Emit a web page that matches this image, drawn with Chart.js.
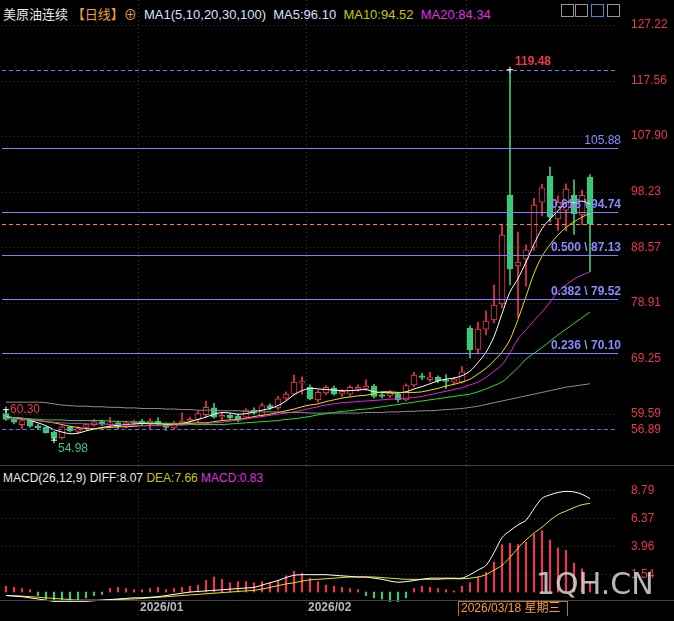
<!DOCTYPE html>
<html>
<head>
<meta charset="utf-8">
<script src="https://cdn.jsdelivr.net/npm/chart.js@4/dist/chart.umd.min.js"></script>
<style>
  body { margin: 0; background: #000; width: 674px; height: 621px; overflow: hidden; position: relative;
         font-family: "Liberation Sans", "Noto Sans CJK SC", sans-serif; }
  canvas { position: absolute; left: 0; }
  #legend { position: absolute; left: 3px; top: 4px; font-size: 13px; color: #e8e8e8; white-space: nowrap; }
  #macdTitle { position: absolute; left: 3px; top: 471px; font-size: 12px; color: #e8e8e8; white-space: nowrap; }
  .cn { font-family: "Noto Sans CJK SC", sans-serif; }
  .box { position: absolute; top: 4px; width: 13px; height: 13px; border: 1px solid #999; box-sizing: border-box; }
</style>
</head>
<body>
<div id="legend"><span class="cn">美原油连续</span> <span class="cn" style="color:#e8a040">【日线】</span><span style="color:#e8a040">⊕</span>
  &nbsp;<span style="color:#d8e0ff">MA1(5,10,20,30,100)</span>&nbsp;
  <span style="color:#d8e0ff">MA5:96.10</span>&nbsp;
  <span style="color:#c8c800">MA10:94.52</span>&nbsp;
  <span style="color:#e030e0">MA20:84.34</span></div>
<div class="box" style="left:561px"></div><div class="box" style="left:575px"></div>
<div class="box" style="left:591px;border-color:#3a8ee0"></div><div class="box" style="left:607px"></div>
<div id="macdTitle">MACD(26,12,9) DIFF:8.07 <span style="color:#c8c800">DEA:7.66</span> <span style="color:#e030e0">MACD:0.83</span></div>
<canvas id="price" width="674" height="466" style="top:0"></canvas>
<canvas id="macd" width="674" height="150" style="top:466px"></canvas>
<script>
// daily candles, oldest first
var opens  = [59.6,58.6,57.7,58.4,57.5,57.2,56.4,55.4,57.2,56.5, 57.2,57.7,58.2,57.8,58.0,57.3,58.0,58.3,57.8,58.3,
              57.8,57.1,58.0,58.3,58.6,59.4,60.6,59.0,59.3,59.2, 59.0,60.2,59.3,61.0,60.6,62.3,63.0,64.9,64.2,62.0,
              63.2,64.1,63.0,63.0,63.8,64.0,64.4,62.9,62.7,63.0, 62.0,64.6,66.2,65.5,65.9,65.5,65.1,65.1,74.5,70.8,
              74.3,75.9,78.7,97.6,85.3,86.5,88.6,96.4,100.9,93.5, 95.0,97.6,94.2,100.8];
var highs  = [60.3,58.9,58.6,58.6,57.8,57.3,56.5,57.5,57.4,57.3, 57.9,58.6,58.5,58.9,58.3,58.2,58.5,58.6,58.7,58.9,
              58.0,58.3,59.7,59.0,60.0,61.8,61.4,59.8,59.6,59.5, 60.5,60.6,61.4,61.3,62.6,63.4,66.3,66.0,64.6,63.6,
              64.5,64.4,63.8,64.5,64.6,65.5,64.7,63.2,63.6,63.3, 64.8,66.8,66.6,66.8,66.2,66.4,65.9,67.8,74.9,75.5,
              77.5,82.0,92.6,119.48,91.2,89.0,97.1,99.5,102.5,97.5, 99.6,100.3,98.5,101.2];
var lows   = [58.4,57.8,57.0,57.2,56.9,56.2,54.98,55.2,56.4,56.2, 56.9,57.4,57.5,57.5,57.0,57.1,57.7,57.6,56.8,57.6,
              56.7,56.8,57.7,57.9,58.2,59.0,58.8,58.5,58.6,58.2, 58.7,59.5,59.0,60.3,60.3,62.0,62.8,63.0,62.0,61.6,
              62.9,62.8,62.6,62.7,63.5,63.7,62.3,62.3,62.4,61.6, 61.8,64.3,65.5,65.2,65.0,64.0,64.8,64.9,69.3,70.0,
              73.3,75.4,78.0,82.0,76.4,81.8,88.0,94.0,93.0,91.5, 91.4,90.8,92.5,84.3];
var closes = [58.6,58.1,58.4,57.4,57.1,56.3,55.3,57.3,56.6,57.0, 57.7,58.2,57.8,58.0,57.3,58.0,58.3,57.9,58.3,57.8,
              57.2,58.0,58.3,58.6,59.6,60.7,59.0,59.3,58.9,58.4, 60.2,59.7,61.0,60.6,62.2,63.0,65.1,65.2,62.2,63.3,
              64.2,63.0,63.5,64.2,64.2,64.4,62.6,62.6,63.3,62.0, 64.5,66.3,65.9,66.0,65.3,65.2,65.6,66.9,70.7,74.3,
              75.7,78.5,90.7,84.8,86.0,88.1,95.9,98.9,93.8,96.4, 98.7,94.4,97.6,92.6];

var ma5   = [59.1,58.9,58.7,58.4,58.0,57.5,56.8,56.4,56.1,56.2, 56.6,56.9,57.2,57.4,57.6,57.7,57.8,57.9,57.9,57.9,
             57.8,57.8,57.9,58.2,58.6,59.0,59.5,59.8,59.7,59.5, 59.6,59.9,60.2,60.5,61.0,61.8,62.9,63.6,64.0,63.9,
             63.8,63.7,63.6,63.6,63.7,63.8,63.4,63.3,63.2,63.2, 63.4,63.9,64.3,64.8,65.3,65.6,65.8,66.2,67.0,68.5,
             70.3,73.0,77.0,80.8,83.1,86.0,89.1,91.8,93.5,94.9, 96.4,96.3,96.6,96.1];
var ma10  = [59.0,58.9,58.8,58.6,58.4,58.2,58.0,57.7,57.4,57.2, 57.0,57.0,57.1,57.2,57.3,57.3,57.4,57.5,57.6,57.6,
             57.7,57.7,57.8,57.9,58.0,58.0,58.2,58.4,58.5,58.6, 58.8,59.1,59.3,59.5,59.8,60.1,60.4,60.8,61.1,61.3,
             61.7,62.0,62.3,62.5,62.7,62.8,63.1,63.4,63.4,63.3, 63.3,63.3,63.4,63.7,64.0,64.4,64.7,65.1,65.6,66.5,
             67.5,68.8,70.3,72.5,76.0,80.0,84.0,87.0,89.0,90.7, 92.0,93.0,93.8,94.5];
var ma20  = [58.8,58.7,58.6,58.5,58.4,58.2,58.1,58.0,57.9,57.9, 57.8,57.8,57.8,57.7,57.7,57.6,57.6,57.5,57.5,57.5,
             57.5,57.6,57.6,57.7,57.8,57.9,58.0,58.1,58.3,58.5, 58.7,58.9,59.1,59.3,59.5,59.7,59.9,60.2,60.5,60.8,
             61.1,61.3,61.5,61.6,61.7,61.8,61.9,62.0,62.1,62.2, 62.3,62.4,62.6,62.9,63.2,63.5,63.8,64.1,64.6,65.1,
             65.9,67.0,68.1,70.2,72.6,74.2,75.8,77.3,79.0,80.8, 82.0,83.0,83.7,84.3];
var ma30  = [59.0,58.9,58.8,58.7,58.6,58.5,58.5,58.5,58.4,58.4, 58.4,58.4,58.4,58.3,58.2,58.2,58.1,58.1,58.0,58.0,
             57.9,57.9,57.8,57.8,57.7,57.7,57.7,57.7,57.8,57.9, 58.0,58.1,58.2,58.3,58.4,58.6,58.7,58.9,59.1,59.4,
             59.6,59.8,60.0,60.1,60.3,60.4,60.6,60.8,61.0,61.2, 61.4,61.6,61.8,62.0,62.2,62.4,62.6,62.8,63.0,63.4,
             63.9,64.5,65.1,66.3,67.6,69.1,70.1,71.1,72.2,73.3, 74.3,75.3,76.3,77.3];
var ma100 = [61.6,61.6,61.6,61.6,61.6,61.5,61.3,61.1,61.0,60.9, 60.9,60.8,60.8,60.7,60.7,60.6,60.6,60.5,60.5,60.5,
             60.4,60.4,60.3,60.3,60.2,60.2,60.2,60.1,60.1,60.1, 60.0,60.0,59.9,59.9,59.9,59.8,59.8,59.8,59.7,59.7,
             59.7,59.7,59.7,59.7,59.7,59.8,59.8,59.8,59.9,59.9, 60.0,60.0,60.1,60.1,60.2,60.3,60.4,60.5,60.7,60.9,
             61.2,61.5,61.8,62.1,62.4,62.7,63.0,63.3,63.6,63.9, 64.2,64.4,64.6,64.8];

var diff = [-0.3,-0.35,-0.4,-0.5,-0.6,-0.7,-0.8,-0.8,-0.8,-0.8, -0.8,-0.75,-0.7,-0.65,-0.6,-0.55,-0.5,-0.5,-0.45,-0.4,
            -0.3,-0.2,-0.1,0.0,0.05,0.1,0.15,0.2,0.25,0.3, 0.35,0.4,0.6,0.8,1.0,1.25,1.45,1.5,1.5,1.5,
            1.5,1.45,1.4,1.35,1.3,1.3,1.2,1.1,0.95,0.85, 0.9,1.0,1.1,1.2,1.2,1.2,1.2,1.2,1.5,1.9,
            2.3,3.4,4.7,5.3,5.8,6.2,7.2,8.1,8.4,8.6, 8.7,8.65,8.45,8.07];
var dea  = [-0.3,-0.32,-0.35,-0.4,-0.45,-0.5,-0.55,-0.6,-0.65,-0.7, -0.7,-0.7,-0.7,-0.68,-0.65,-0.62,-0.6,-0.55,-0.5,-0.45,
            -0.4,-0.35,-0.3,-0.25,-0.2,-0.15,-0.1,-0.05,0.0,0.05, 0.1,0.15,0.25,0.4,0.55,0.7,0.8,0.95,1.05,1.1,
            1.15,1.2,1.25,1.3,1.3,1.3,1.3,1.25,1.2,1.15, 1.1,1.1,1.1,1.1,1.1,1.15,1.15,1.15,1.2,1.3,
            1.5,1.9,2.3,3.0,3.8,4.5,5.1,5.6,6.2,6.7, 7.0,7.3,7.55,7.66];
var hist = [0.5,0.4,0.3,0.2,-0.3,-0.6,-0.9,-1.0,-0.9,-0.7, -0.5,-0.3,-0.2,0.3,0.4,0.3,0.2,0.2,0.3,0.4,
            0.2,0.3,0.4,0.5,0.6,1.0,1.3,1.1,0.8,0.9, 0.9,0.8,0.9,0.8,1.0,1.4,1.8,1.6,1.2,0.9,
            0.6,0.5,0.4,0.3,0.2,-0.3,-0.5,-0.6,-0.9,-1.0, -0.5,0.3,0.5,0.4,0.3,0.2,0.1,0.5,0.8,1.3,
            1.7,2.6,4.1,4.2,4.1,4.3,5.0,5.3,4.5,3.8, 3.6,2.5,2.0,0.83];

var priceTicks = [127.22, 117.56, 107.90, 98.23, 88.57, 78.91, 69.25, 59.59, 56.89];
var macdTicks = [8.79, 6.37, 3.96, 1.54];
var fibLevels = [105.88, 94.74, 87.13, 79.52, 70.10];
var fibNames = ['', '0.618', '0.500', '0.382', '0.236'];
var monthStarts = [17, 38, 58];
var monthNames = ['2026/01', '2026/02', ''];
var slots = 77;

var RED = '#f0364e', GREEN = '#3cc87a', TXT = '#e8364f', FIB = '#8080ff';
var labels = [];
for (var i = 0; i < slots; i++) labels.push(String(i));

var bodies = opens.map(function(o, i) { return [o, closes[i]]; });
var wicks = highs.map(function(h, i) { return [lows[i], h]; });
var up = opens.map(function(o, i) { return closes[i] >= o; });

function fixWidth(scale) { scale.width = 56; }

function gridPlugin(ticks) {
  return {
    id: 'grid',
    beforeDatasetsDraw: function(chart) {
      var c = chart.ctx, a = chart.chartArea, x = chart.scales.x, y = chart.scales.y;
      c.save();
      c.strokeStyle = '#3a3a3a'; c.lineWidth = 1; c.setLineDash([1, 3]);
      ticks.forEach(function(t) {
        var py = Math.round(y.getPixelForValue(t)) + 0.5;
        c.beginPath(); c.moveTo(a.left, py); c.lineTo(a.right, py); c.stroke();
      });
      monthStarts.forEach(function(m) {
        var px = Math.round(x.getPixelForValue(m)) - 3.5;
        c.beginPath(); c.moveTo(px, 0); c.lineTo(px, chart.height); c.stroke();
      });
      c.restore();
    }
  };
}

var pricePlugin = {
  id: 'priceMarks',
  afterDatasetsDraw: function(chart) {
    var c = chart.ctx, a = chart.chartArea, x = chart.scales.x, y = chart.scales.y;
    c.save();
    c.lineWidth = 1;
    // fib levels
    c.strokeStyle = FIB;
    fibLevels.forEach(function(v, k) {
      var py = Math.round(y.getPixelForValue(v)) + 0.5;
      c.beginPath(); c.moveTo(a.left, py); c.lineTo(a.right, py); c.stroke();
      c.font = (k === 0 ? '' : 'bold ') + '12px "Liberation Sans"';
      c.fillStyle = '#8a8aff'; c.textAlign = 'right'; c.textBaseline = 'bottom';
      var txt = k === 0 ? v.toFixed(2) : fibNames[k] + ' \\ ' + v.toFixed(2);
      c.fillText(txt, a.right + 3, py - 2);
    });
    // dashed high / low lines
    c.setLineDash([4, 3]);
    [[119.48, '#7a7aee'], [56.89, '#6a6aee']].forEach(function(d) {
      var py = Math.round(y.getPixelForValue(d[0])) + 0.5;
      c.strokeStyle = d[1];
      c.beginPath(); c.moveTo(a.left, py); c.lineTo(a.right, py); c.stroke();
    });
    // last price
    var lp = Math.round(y.getPixelForValue(closes[closes.length - 1])) + 0.5;
    c.strokeStyle = '#ff8a1a';
    c.beginPath(); c.moveTo(a.left, lp); c.lineTo(chart.width, lp); c.stroke();
    c.setLineDash([]);
    // extreme labels
    c.textAlign = 'left'; c.textBaseline = 'bottom';
    c.fillStyle = RED;
    c.font = 'bold 12px "Liberation Sans"';
    c.fillText('119.48', x.getPixelForValue(63) + 5, y.getPixelForValue(119.48) - 2);
    c.font = '12px "Liberation Sans"';
    c.fillText('60.30', x.getPixelForValue(0) + 4, y.getPixelForValue(60.3) + 6);
    c.fillStyle = GREEN; c.textBaseline = 'top';
    c.fillText('54.98', x.getPixelForValue(6) + 4, y.getPixelForValue(54.98) + 3);
    // small crosses at extremes
    c.strokeStyle = '#fff';
    [[63, 119.48], [0, 60.3], [6, 54.98]].forEach(function(p) {
      var px = x.getPixelForValue(p[0]), py = y.getPixelForValue(p[1]);
      c.beginPath(); c.moveTo(px - 3, py); c.lineTo(px + 3, py); c.moveTo(px, py - 3); c.lineTo(px, py + 3); c.stroke();
    });
    // panel border
    c.strokeStyle = '#444';
    c.beginPath(); c.moveTo(0, chart.height - 0.5); c.lineTo(chart.width, chart.height - 0.5); c.stroke();
    c.restore();
  }
};

function lineSet(data, color) {
  return { type: 'line', data: data, borderColor: color, borderWidth: 1, pointRadius: 0, tension: 0.3, order: 0 };
}

new Chart(document.getElementById('price'), {
  data: {
    labels: labels,
    datasets: [
      { type: 'bar', data: wicks, grouped: false, barThickness: 1, order: 3,
        backgroundColor: up.map(function(u) { return u ? RED : GREEN; }) },
      { type: 'bar', data: bodies, grouped: false, barThickness: 6, order: 2, borderSkipped: false,
        minBarLength: 1, borderWidth: 1,
        backgroundColor: up.map(function(u) { return u ? '#000' : GREEN; }),
        borderColor: up.map(function(u) { return u ? RED : GREEN; }) },
      lineSet(ma100, '#8c8c8c'),
      lineSet(ma30, '#22e022'),
      lineSet(ma20, '#e020e0'),
      lineSet(ma10, '#e6e600'),
      lineSet(ma5, '#ffffff')
    ]
  },
  options: {
    animation: false, responsive: false,
    layout: { padding: { top: 10, bottom: 4, left: 2, right: 0 } },
    plugins: { legend: { display: false }, tooltip: { enabled: false } },
    scales: {
      x: { display: false, offset: true },
      y: { position: 'right', min: 52.61, max: 129.48,
           afterFit: fixWidth,
           afterBuildTicks: function(s) { s.ticks = priceTicks.map(function(v) { return { value: v }; }); },
           grid: { display: false }, border: { display: false },
           ticks: { color: TXT, padding: 5, font: { size: 12, family: 'Liberation Sans' },
                    callback: function(v) { return v.toFixed(2); } } }
    }
  },
  plugins: [gridPlugin(priceTicks), pricePlugin]
});

var macdPlugin = {
  id: 'macdMarks',
  afterDatasetsDraw: function(chart) {
    var c = chart.ctx, x = chart.scales.x;
    c.save();
    c.font = 'bold 12px "Liberation Sans"'; c.fillStyle = '#b8b8b8';
    c.textAlign = 'left'; c.textBaseline = 'middle';
    monthNames.forEach(function(n, k) {
      if (n) c.fillText(n, x.getPixelForValue(monthStarts[k]) - 2, 142);
    });
    // cursor date box
    var bx = x.getPixelForValue(58) - 12;
    c.strokeStyle = '#c07020'; c.lineWidth = 1;
    c.strokeRect(bx + 0.5, 135.5, 109, 16);
    c.fillStyle = '#ff9a30'; c.font = '12px "Liberation Sans", "Noto Sans CJK SC"';
    c.fillText('2026/03/18 星期三', bx + 3, 143);
    c.strokeStyle = '#444';
    c.beginPath(); c.moveTo(0, 134.5); c.lineTo(chart.width, 134.5); c.stroke();
    // watermark
    c.font = '30px "DejaVu Sans"'; c.fillStyle = 'rgba(215,215,215,0.85)';
    c.textBaseline = 'alphabetic';
    c.fillText('1QH.CN', 536, 128);
    c.restore();
  }
};

new Chart(document.getElementById('macd'), {
  data: {
    labels: labels,
    datasets: [
      { type: 'bar', data: hist, barThickness: 1.5, order: 2,
        backgroundColor: hist.map(function(v) { return v >= 0 ? RED : GREEN; }) },
      { type: 'line', data: diff, borderColor: '#ffffff', borderWidth: 1, pointRadius: 0, tension: 0.3, order: 0 },
      { type: 'line', data: dea, borderColor: '#e6e600', borderWidth: 1, pointRadius: 0, tension: 0.3, order: 1 }
    ]
  },
  options: {
    animation: false, responsive: false,
    layout: { padding: { top: 19, bottom: 14, left: 2, right: 0 } },
    plugins: { legend: { display: false }, tooltip: { enabled: false } },
    scales: {
      x: { display: false, offset: true },
      y: { position: 'right', min: -0.86, max: 9.25,
           afterFit: fixWidth,
           afterBuildTicks: function(s) { s.ticks = macdTicks.map(function(v) { return { value: v }; }); },
           grid: { display: false }, border: { display: false },
           ticks: { color: TXT, padding: 5, font: { size: 12, family: 'Liberation Sans' },
                    callback: function(v) { return v.toFixed(2); } } }
    }
  },
  plugins: [gridPlugin(macdTicks), macdPlugin]
});
</script>
</body>
</html>
